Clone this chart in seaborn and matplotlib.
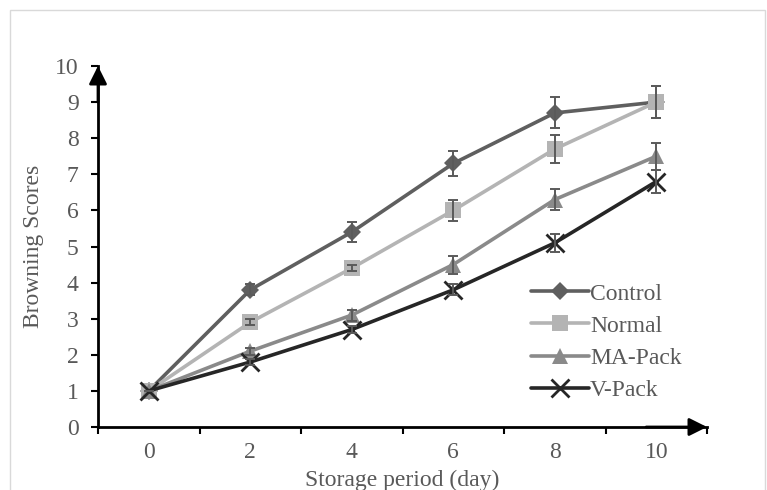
import numpy as np
import pandas as pd
import matplotlib
matplotlib.use("Agg")
import matplotlib.pyplot as plt
import seaborn as sns
from matplotlib.patches import Rectangle

days = ["0", "2", "4", "6", "8", "10"]
series = ["Control", "Normal", "MA-Pack", "V-Pack"]
control = [1.0, 3.8, 5.4, 7.3, 8.7, 9.0]
normal = [1.0, 2.9, 4.4, 6.0, 7.7, 9.0]
ma_pack = [1.0, 2.1, 3.1, 4.5, 6.3, 7.5]
v_pack = [1.0, 1.8, 2.7, 3.8, 5.1, 6.8]
control_err = [0.0, 0.15, 0.27, 0.35, 0.43, 0.45]
normal_err = [0.0, 0.08, 0.08, 0.3, 0.38, 0.45]
ma_pack_err = [0.0, 0.1, 0.15, 0.25, 0.3, 0.38]
v_pack_err = [0.0, 0.08, 0.1, 0.15, 0.25, 0.32]

values = [control, normal, ma_pack, v_pack]
errors = [control_err, normal_err, ma_pack_err, v_pack_err]
colors = ["#5f5f5f", "#b4b4b4", "#8a8a8a", "#262626"]
markers = ["D", "s", "^", "x"]
msizes = [9.5, 11.5, 11.5, 13]

rows = []
for name, vals in zip(series, values):
    for i, v in enumerate(vals):
        rows.append({"pos": i, "day": days[i], "score": v, "treatment": name})
df = pd.DataFrame(rows)

sns.set_style("white")
plt.rcParams["font.family"] = ["Liberation Serif", "DejaVu Serif"]

FS = 17
GRAY = "#595959"

fig = plt.figure(figsize=(7.67, 4.9), dpi=100)
ax = fig.add_axes([98 / 767, 63 / 490, (707 - 98) / 767, (427 - 66) / 490])

for name, vals, err, c, m, ms in zip(series, values, errors, colors, markers, msizes):
    sub = df[df["treatment"] == name]
    sns.lineplot(data=sub, x="pos", y="score", color=c, marker=m, markersize=ms,
                 linewidth=2.6, markeredgewidth=2.0 if m == "x" else 0,
                 markeredgecolor=c, label=name, ax=ax, zorder=3)
    ax.errorbar(sub["pos"], sub["score"], yerr=err, fmt="none", ecolor="#5a5a5a",
                elinewidth=1.4, capsize=3.8, capthick=1.4, zorder=4)

ax.set_xlim(-0.5, 5.5)
ax.set_ylim(0, 10)
ax.set_yticks(range(0, 11))
ax.set_xticks(range(6))
ax.set_xticklabels(days)
ax.set_xticks(np.arange(-0.5, 5.6, 1.0), minor=True)
ax.tick_params(axis="x", which="major", length=0, pad=11, labelsize=FS, labelcolor=GRAY)
ax.tick_params(axis="x", which="minor", length=5, width=1.5, color="black", direction="out", bottom=True)
ax.tick_params(axis="y", which="major", length=5, width=1.5, color="black", direction="out",
               left=True, labelsize=FS, labelcolor=GRAY, pad=9)

for s in ["top", "right"]:
    ax.spines[s].set_visible(False)
for s in ["left", "bottom"]:
    ax.spines[s].set_color("black")
    ax.spines[s].set_linewidth(2)

arrow = dict(arrowstyle="-|>,head_length=0.6,head_width=0.3", color="black", lw=2,
             mutation_scale=18, shrinkA=0, shrinkB=0)
ax.annotate("", xy=(0, 1), xytext=(0, 0.9), xycoords="axes fraction", arrowprops=arrow,
            annotation_clip=False)
ax.annotate("", xy=(1, 0), xytext=(0.9, 0), xycoords="axes fraction", arrowprops=arrow,
            annotation_clip=False)

ax.set_xlabel("Storage period (day)", fontsize=FS, color=GRAY, labelpad=5)
ax.set_ylabel("Browning Scores", fontsize=FS, color=GRAY, labelpad=8)

leg = ax.legend(loc="upper left", bbox_to_anchor=(531 / 767, 1 - 283 / 490),
                bbox_transform=fig.transFigure, frameon=False, fontsize=FS,
                handlelength=2.45, handletextpad=0.05, labelspacing=0.45,
                borderpad=0, borderaxespad=0)
for t in leg.get_texts():
    t.set_color(GRAY)

fig.patches.append(Rectangle((10 / 767, -0.01), 1 - 10 / 767 - 0.002, 1 - 10 / 490 + 0.01,
                             transform=fig.transFigure, fill=False, edgecolor="#d9d9d9",
                             linewidth=1))

fig.savefig("out.png", dpi=100)
